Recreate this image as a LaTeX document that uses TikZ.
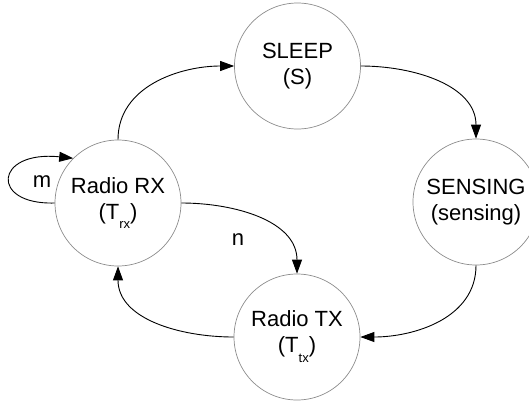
\documentclass[tikz,border=0pt]{standalone}
\usepackage{fontspec}
\setmainfont{Liberation Sans}
\usetikzlibrary{arrows.meta}
\newcommand{\subtx}[1]{\raisebox{-0.45em}{\fontsize{13}{13}\selectfont #1}}
\begin{document}
\begin{tikzpicture}[x=1pt,y=-1pt,
  state/.style={circle,draw=black!45,line width=0.7pt,minimum size=126pt,inner sep=0pt,align=center,font=\fontsize{22}{26}\selectfont},
  conn/.style={draw=black,line width=0.9pt,-{Triangle[length=14pt,width=10pt]}},
  lbl/.style={font=\fontsize{22}{26}\selectfont,inner sep=0pt}]
\useasboundingbox (0,0) rectangle (529,402);
\node[state] (sleep) at (297.5,66) {SLEEP\\(S)};
\node[state] (sensing) at (476,202) {SENSING\\(sensing)};
\node[state] (tx) at (297,337) {Radio TX\\(T\subtx{tx})};
\node[state] (rx) at (118,203) {Radio RX\\(T\subtx{rx})};
\draw[conn] (rx.north) to[out=90,in=180] (sleep.west);
\draw[conn] (sleep.east) to[out=0,in=90] (sensing.north);
\draw[conn] (sensing.south) to[out=-90,in=0] (tx.east);
\draw[conn] (tx.west) to[out=180,in=-90] (rx.south);
\draw[conn] (rx.east) to[out=0,in=90] (tx.north);
\draw[conn] (rx.west) .. controls +(-65,2) and +(-79,-8) .. (rx.135);
\node[lbl] (m) at (42,182) {m};
\node[lbl] (n) at (238,240) {n};
\end{tikzpicture}
\end{document}
